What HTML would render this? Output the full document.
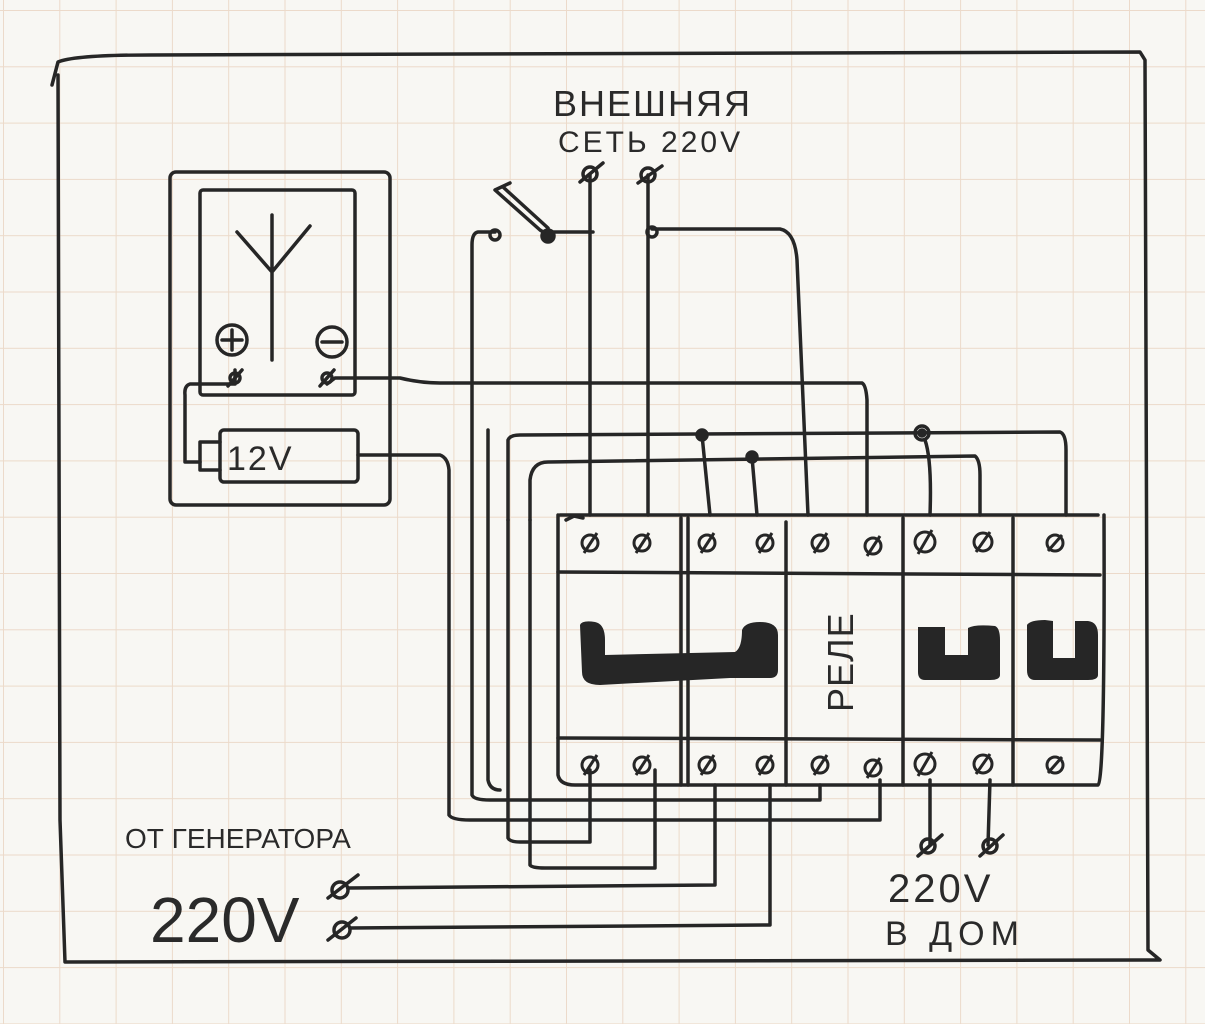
<!DOCTYPE html>
<html><head><meta charset="utf-8"><style>
html,body{margin:0;padding:0;background:#f8f7f3}
svg{display:block}
text{font-family:"Liberation Sans",sans-serif;fill:#2a2a2a}
</style></head><body>
<svg width="1205" height="1024" viewBox="0 0 1205 1024" xmlns="http://www.w3.org/2000/svg">
<defs>
<pattern id="g" x="3" y="10" width="56.3" height="56.3" patternUnits="userSpaceOnUse">
<path d="M0 0H56.3M0 0V56.3" stroke="#ecdaca" stroke-width="2" fill="none"/>
</pattern>
</defs>
<rect width="1205" height="1024" fill="#f8f7f3"/>
<rect width="1205" height="1024" fill="url(#g)"/>
<g stroke="#262626" stroke-width="3.5" fill="none" stroke-linecap="round" stroke-linejoin="round">
<path d="M52 85 L58 62 Q75 55 150 55 L1140 52 L1145 60 L1148 950 L1160 960 L65 962 L60 820 L58 75"/>
<rect x="170" y="172" width="220" height="333" rx="6"/>
<rect x="200" y="190" width="155" height="205" rx="3"/>
<path d="M272 215 V360 M237 232 L272 272 L310 226"/>
<circle cx="232" cy="340" r="15"/><path d="M232 330V350M222 340H242"/>
<circle cx="332" cy="342" r="15"/><path d="M322 342H342"/>
<circle cx="235" cy="378" r="5"/><circle cx="327" cy="378" r="5"/>
<path d="M228 386L242 370M320 386L334 370"/>
<rect x="220" y="430" width="138" height="52" rx="4"/>
<path d="M220 442H200V470H220"/>
<path d="M235 370V384 H190 Q184 386 185 395 V462 H200"/>
<path d="M327 384 L335 378 H400 Q420 383 440 383 H862 Q866 385 867 400 V515"/>
<path d="M358 455 H440 Q448 458 449 470 V815 Q452 820 470 820 H880 V780"/>
<path d="M495 190 L510 183 M495 190 L540 230 L548 235 M503 187 L548 228"/>
<circle cx="495" cy="235" r="5"/><circle cx="548" cy="236" r="6" fill="#262626"/>
<path d="M548 232 H590 M582 232H593"/>
<circle cx="652" cy="232" r="5"/>
<circle cx="590" cy="174" r="7"/><path d="M580 182L603 163"/>
<circle cx="648" cy="175" r="7"/><path d="M638 183L662 166"/>
<path d="M590 174 V515 M648 175 V515"/>
<path d="M495 232 H478 Q472 233 472 245 V795 Q474 800 490 800 H820 V785"/>
<path d="M652 229 H780 Q795 232 797 260 L808 515"/>
<path d="M508 520 V440 Q510 435 520 435 L1060 432 Q1066 434 1066 450 V515"/>
<path d="M508 520 V838 Q510 842 520 842 H590 V770"/>
<circle cx="702" cy="435" r="5" fill="#262626"/><path d="M702 435 L710 515"/>
<circle cx="922" cy="433" r="7"/><circle cx="922" cy="433" r="3" fill="#262626"/><path d="M925 440 Q932 460 930 515"/>
<path d="M530 520 V480 Q532 462 548 462 L975 456 Q980 460 980 475 V515"/>
<path d="M530 520 V865 Q532 868 545 868 H655 V770"/>
<circle cx="752" cy="457" r="5" fill="#262626"/><path d="M752 457 L757 515"/>
<path d="M488 430 V780 Q490 790 500 790"/>
<path d="M560 515 H1098 M558 515 V775 Q560 785 575 785 H1098 Q1105 780 1104 515"/>
<path d="M558 572 L1100 575 M558 738 L1100 740"/>
<path d="M681 518 V785 M688 518 V785 M786 522 V785 M903 518 V785 M1013 518 V785"/>
<path d="M583 518 L574 516 L566 520"/>
<path d="M930 780 V845 M990 780 L988 845"/>
<circle cx="928" cy="846" r="7"/><path d="M918 856L942 835"/>
<circle cx="990" cy="846" r="7"/><path d="M980 856L1003 835"/>
<circle cx="340" cy="890" r="8"/><path d="M328 898L358 875"/>
<circle cx="342" cy="930" r="8"/><path d="M328 940L356 918"/>
<path d="M348 888 L715 885 V785 M350 928 L770 925 V785"/>
</g>
<g fill="#262626" stroke="none">
<path d="M580 625 Q582 620 595 622 Q605 624 605 640 V655 L735 652 Q742 648 742 630 Q745 622 760 622 Q778 622 778 635 V670 Q778 678 770 678 H730 L600 685 Q582 685 582 672 Z"/>
<path d="M918 627 H945 V655 H968 V628 Q975 624 995 626 Q1000 628 1000 640 V675 Q1000 680 990 680 H925 Q918 680 918 672 Z"/>
<path d="M1027 625 Q1030 620 1045 620 L1053 621 V658 H1075 V621 H1088 Q1098 622 1098 635 V675 Q1098 680 1088 680 H1035 Q1027 680 1027 670 Z"/>
</g>
<g stroke="#262626" stroke-width="3" fill="none">
<g id="t">
<circle cx="590" cy="543" r="8"/><path d="M584 553L597 533"/>
<circle cx="642" cy="543" r="8"/><path d="M636 553L649 533"/>
<circle cx="707" cy="543" r="8"/><path d="M701 553L714 533"/>
<circle cx="765" cy="543" r="8"/><path d="M759 553L772 533"/>
<circle cx="820" cy="543" r="8"/><path d="M814 553L827 533"/>
<circle cx="873" cy="546" r="8"/><path d="M867 556L880 536"/>
<circle cx="925" cy="542" r="10"/><path d="M918 554L932 530"/>
<circle cx="983" cy="542" r="9"/><path d="M976 552L990 532"/>
<circle cx="1055" cy="543" r="8"/><path d="M1048 551L1062 535"/>
</g>
<use href="#t" y="222"/>
</g>
<text x="553" y="116" font-size="36" letter-spacing="2">ВНЕШНЯЯ</text>
<text x="558" y="152" font-size="30" letter-spacing="3">СЕТЬ 220V</text>
<text x="227" y="470" font-size="34" letter-spacing="2">12V</text>
<text x="125" y="848" font-size="28">ОТ ГЕНЕРАТОРА</text>
<text x="150" y="942" font-size="64">220V</text>
<text x="888" y="902" font-size="40" letter-spacing="3">220V</text>
<text x="885" y="945" font-size="34" letter-spacing="6">В ДОМ</text>
<text transform="translate(853,712) rotate(-90)" font-size="36" letter-spacing="1">РЕЛЕ</text>
</svg>
</body></html>
